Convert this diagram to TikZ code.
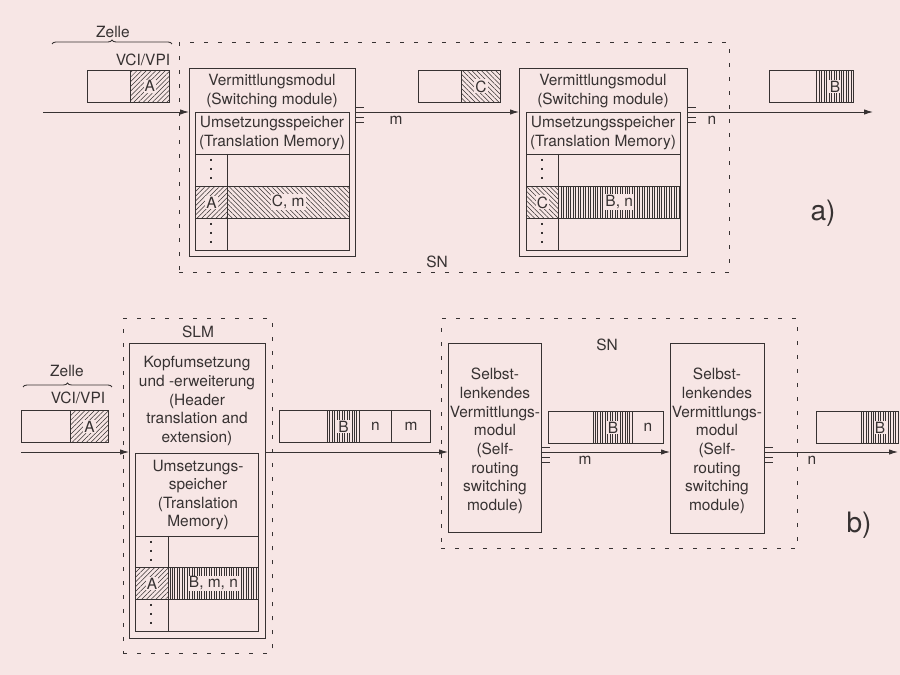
\documentclass[tikz,border=0pt]{standalone}
\usepackage{fontspec}
\setmainfont{TeX Gyre Heros}
\usepackage{tikz}
\usetikzlibrary{arrows.meta,patterns.meta,positioning,decorations.pathreplacing}
\definecolor{myPaper}{RGB}{247,230,229}
\definecolor{myInk}{RGB}{55,50,50}
\newdimen\px \px=0.02cm
% kurze Striche fuer mehrere Ausgaenge
\newcommand{\outstubs}[1]{%
  \foreach \dy in {-5,5,10} {\draw (#1) ++(0,\dy) -- ++(8,0);}}

\begin{document}
\begin{tikzpicture}[x=0.02cm, y=-0.02cm, line width=0.5pt, color=myInk,
  font=\fontsize{8.8}{10.6}\selectfont,
  box/.style={draw, inner sep=0pt, anchor=north west},
  cell/.style={box, minimum height=32\px},
  grp/.style={box, dash pattern=on 0.08cm off 0.2cm},
  txt/.style={align=center, inner sep=0pt},
  hatchA/.style={pattern={Lines[angle=45, distance=1.9pt, line width=0.3pt]}, pattern color=myInk},
  hatchC/.style={pattern={Lines[angle=-45, distance=1.9pt, line width=0.3pt]}, pattern color=myInk},
  hatchB/.style={pattern={Lines[angle=90, distance=1.4pt, line width=0.25pt]}, pattern color=myInk},
  lab/.style={label={[fill=myPaper, inner sep=0.6pt]center:#1}},
  arr/.style={-{Latex[length=5pt,width=3pt]}},
  brc/.style={decorate, decoration={brace, amplitude=0.08cm}},
  vdot/.style={line width=0.9pt, dash pattern=on 0.05cm off 0.13cm}
]
  % Hintergrund
  \fill[myPaper] (0,0) rectangle (900,675);

  %%% a)
  % Eingangszelle
  \node (zelleA) at (113,32) {Zelle};
  \draw[brc] (52,44) -- (172,44);
  \node (vciA) at (143,60) {VCI/VPI};
  \node[cell, minimum width=43\px] (cellA) at (87,70) {};
  \node[cell, hatchA, minimum width=39\px, lab=A] (cellAa) at (130,70) {};
  % Koppelnetz
  \node[grp, minimum width=550\px, minimum height=230\px] (snA) at (179,42) {};
  \node (snAlab) at (437,262) {SN};
  % Modul 1
  \node[box, minimum width=166\px, minimum height=188\px] (vmA1) at (189,68) {};
  \node[txt] (vmA1t) at (272,91) {Vermittlungsmodul\\(Switching module)};
  \node[box, minimum width=154\px, minimum height=138\px] (memA1) at (195,112) {};
  \node[txt] (memA1t) at (272,133) {Umsetzungsspeicher\\(Translation Memory)};
  \draw (195,154) -- (349,154);
  \draw (227,154) -- (227,250);
  \node[cell, hatchA, minimum width=32\px, lab=A] (keyA1) at (195,186) {};
  \node[cell, hatchC, minimum width=122\px, lab={C, m}] (valA1) at (227,186) {};
  \draw[vdot] (211,159) -- (211,183);
  \draw[vdot] (211,223) -- (211,247);
  % Zwischenzelle
  \node (mA) at (396,120) {m};
  \node[cell, minimum width=43\px] (cellC) at (418,70) {};
  \node[cell, hatchC, minimum width=39\px, lab=C] (cellCc) at (461,70) {};
  % Modul 2
  \node[box, minimum width=168\px, minimum height=188\px] (vmA2) at (519,68) {};
  \node[txt] (vmA2t) at (603,91) {Vermittlungsmodul\\(Switching module)};
  \node[box, minimum width=154\px, minimum height=138\px] (memA2) at (526,112) {};
  \node[txt] (memA2t) at (603,133) {Umsetzungsspeicher\\(Translation Memory)};
  \draw (526,154) -- (680,154);
  \draw (558,154) -- (558,250);
  \node[cell, hatchC, minimum width=32\px, lab=C] (keyA2) at (526,186) {};
  \node[cell, hatchB, minimum width=122\px, lab={B, n}] (valA2) at (558,186) {};
  \draw[vdot] (542,159) -- (542,183);
  \draw[vdot] (542,223) -- (542,247);
  % Ausgang
  \node (nA) at (712,120) {n};
  \node[cell, minimum width=47\px] (cellB) at (769,70) {};
  \node[cell, hatchB, minimum width=37\px, lab=B] (cellBb) at (816,70) {};
  % Pfeile
  \coordinate (inA) at (43,112);
  \coordinate (outA) at (873,112);
  \draw[arr] (inA) -- (inA -| vmA1.west);
  \draw[arr] (vmA1.east |- inA) -- (inA -| vmA2.west);
  \draw[arr] (vmA2.east |- inA) -- (outA);
  \outstubs{vmA1.east |- inA}
  \outstubs{vmA2.east |- inA}
  \node[font=\fontsize{16}{18}\selectfont] (labA) at (823,213) {a)};

  %%% b)
  % Eingangszelle
  \node (zelleB) at (67,371) {Zelle};
  \draw[brc] (23,387) -- (112,387);
  \node (vciB) at (78,398) {VCI/VPI};
  \node[cell, minimum width=49\px] (cellA2) at (21,410) {};
  \node[cell, hatchA, minimum width=38\px, lab=A] (cellA2a) at (70,410) {};
  % SLM
  \node[grp, minimum width=149\px, minimum height=335\px] (slm) at (123,318) {};
  \node (slmlab) at (198,332) {SLM};
  \node[box, minimum width=136\px, minimum height=295\px] (kopf) at (129,343) {};
  \node[txt] (kopft) at (197,401) {Kopfumsetzung\\und -erweiterung\\(Header\\translation and\\extension)};
  \node[box, minimum width=123\px, minimum height=178\px] (memB) at (135,453) {};
  \node[txt] (memBt) at (198,495) {Umsetzungs-\\speicher\\(Translation\\Memory)};
  \draw (135,536) -- (258,536);
  \draw (168,536) -- (168,631);
  \node[cell, hatchA, minimum width=33\px, lab=A] (keyB) at (135,567) {};
  \node[cell, hatchB, minimum width=90\px, lab={B, m, n}] (valB) at (168,567) {};
  \draw[vdot] (151,541) -- (151,564);
  \draw[vdot] (151,604) -- (151,628);
  % erweiterte Zelle
  \node[cell, minimum width=48\px] (cellX) at (279,410) {};
  \node[cell, hatchB, minimum width=32\px, lab=B] (cellXb) at (327,410) {};
  \node[cell, minimum width=32\px] (cellXn) at (359,410) {n};
  \node[cell, minimum width=39\px] (cellXm) at (391,410) {m};
  % Koppelnetz
  \node[grp, minimum width=356\px, minimum height=230\px] (snB) at (441,318) {};
  \node (snBlab) at (607,345) {SN};
  \node[box, minimum width=93\px, minimum height=189\px] (srm1) at (448,343) {};
  \node[txt] (srm1t) at (495,441) {Selbst-\\lenkendes\\Vermittlungs-\\modul\\(Self-\\routing\\switching\\module)};
  \node (mB) at (585,460) {m};
  \node[cell, minimum width=45\px] (cellY) at (548,411) {};
  \node[cell, hatchB, minimum width=39\px, lab=B] (cellYb) at (593,411) {};
  \node[cell, minimum width=31\px] (cellYn) at (632,411) {n};
  \node[box, minimum width=94\px, minimum height=190\px] (srm2) at (670,343) {};
  \node[txt] (srm2t) at (717,441) {Selbst-\\lenkendes\\Vermittlungs-\\modul\\(Self-\\routing\\switching\\module)};
  % Ausgang
  \node (nB) at (812,460) {n};
  \node[cell, minimum width=45\px] (cellZ) at (816,411) {};
  \node[cell, hatchB, minimum width=37\px, lab=B] (cellZb) at (861,411) {};
  % Pfeile
  \coordinate (inB) at (21,452);
  \coordinate (outB) at (898,452);
  \draw[arr] (inB) -- (inB -| kopf.west);
  \draw[arr] (kopf.east |- inB) -- (inB -| srm1.west);
  \draw[arr] (srm1.east |- inB) -- (inB -| srm2.west);
  \draw[arr] (srm2.east |- inB) -- (outB);
  \outstubs{srm1.east |- inB}
  \outstubs{srm2.east |- inB}
  \node[font=\fontsize{16}{18}\selectfont] (labB) at (859,525) {b)};
\end{tikzpicture}
\end{document}
